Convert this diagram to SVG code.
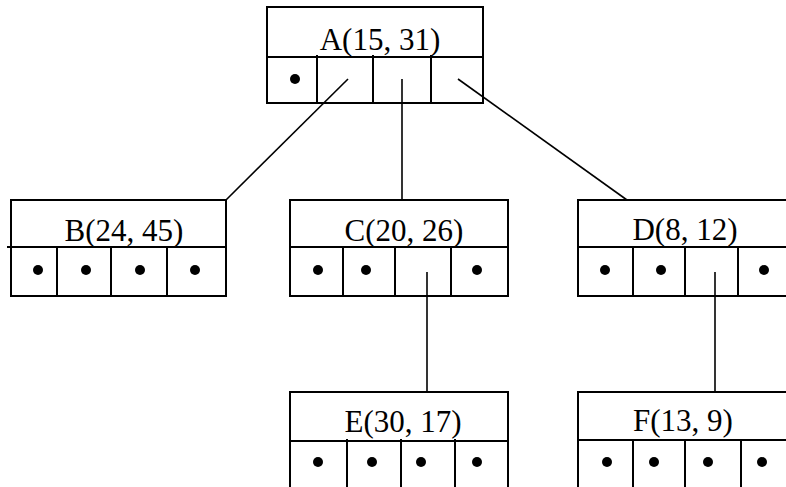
<svg xmlns="http://www.w3.org/2000/svg" width="786" height="487" viewBox="0 0 786 487">
<style>
.box{fill:#fff;stroke:#000;stroke-width:2}
.ln{stroke:#000;stroke-width:2;fill:none}
.c{stroke:#000;stroke-width:1.6;fill:none}
.t{font-family:"Liberation Serif","Times New Roman",serif;font-size:31px;text-anchor:middle;fill:#000}
.d{fill:#000}
</style>
<rect width="786" height="487" fill="#fff"/>
<g id="A">
<rect class="box" x="267" y="7" width="216" height="96"/>
<line class="ln" x1="267" y1="57" x2="483" y2="57"/>
<line class="ln" x1="317" y1="55" x2="317" y2="103"/>
<line class="ln" x1="373" y1="55" x2="373" y2="103"/>
<line class="ln" x1="431" y1="55" x2="431" y2="103"/>
<text class="t" x="380" y="50">A(15, 31)</text>
<circle class="d" cx="295" cy="79" r="5"/>
</g>
<g id="B">
<rect class="box" x="11" y="200" width="215" height="96"/>
<line class="ln" x1="7" y1="247" x2="226" y2="247"/>
<line class="ln" x1="57" y1="247" x2="57" y2="296"/>
<line class="ln" x1="111" y1="247" x2="111" y2="296"/>
<line class="ln" x1="167" y1="247" x2="167" y2="296"/>
<text class="t" x="124" y="241">B(24, 45)</text>
<circle class="d" cx="38" cy="270" r="5"/>
<circle class="d" cx="86" cy="270" r="5"/>
<circle class="d" cx="140" cy="270" r="5"/>
<circle class="d" cx="195" cy="270" r="5"/>
</g>
<g id="C">
<rect class="box" x="290" y="200" width="218" height="96"/>
<line class="ln" x1="290" y1="247" x2="508" y2="247"/>
<line class="ln" x1="343" y1="247" x2="343" y2="296"/>
<line class="ln" x1="395" y1="247" x2="395" y2="296"/>
<line class="ln" x1="451" y1="247" x2="451" y2="296"/>
<text class="t" x="404" y="241">C(20, 26)</text>
<circle class="d" cx="318" cy="270" r="5"/>
<circle class="d" cx="366" cy="270" r="5"/>
<circle class="d" cx="477" cy="270" r="5"/>
</g>
<g id="D">
<rect class="box" x="578" y="200" width="218" height="96"/>
<line class="ln" x1="578" y1="247" x2="796" y2="247"/>
<line class="ln" x1="633" y1="247" x2="633" y2="296"/>
<line class="ln" x1="685" y1="247" x2="685" y2="296"/>
<line class="ln" x1="738" y1="247" x2="738" y2="296"/>
<text class="t" x="685" y="240">D(8, 12)</text>
<circle class="d" cx="605" cy="270" r="5"/>
<circle class="d" cx="661" cy="270" r="5"/>
<circle class="d" cx="764" cy="270" r="5"/>
</g>
<g id="E">
<rect class="box" x="290" y="392" width="218" height="110"/>
<line class="ln" x1="290" y1="441" x2="508" y2="441"/>
<line class="ln" x1="347" y1="439" x2="347" y2="490"/>
<line class="ln" x1="401" y1="439" x2="401" y2="490"/>
<line class="ln" x1="455" y1="439" x2="455" y2="490"/>
<text class="t" x="403" y="432">E(30, 17)</text>
<circle class="d" cx="318" cy="462" r="5"/>
<circle class="d" cx="372" cy="462" r="5"/>
<circle class="d" cx="421" cy="462" r="5"/>
<circle class="d" cx="477" cy="462" r="5"/>
</g>
<g id="F">
<rect class="box" x="578" y="392" width="218" height="110"/>
<line class="ln" x1="578" y1="440" x2="796" y2="440"/>
<line class="ln" x1="633" y1="440" x2="633" y2="490"/>
<line class="ln" x1="685" y1="440" x2="685" y2="490"/>
<line class="ln" x1="741" y1="440" x2="741" y2="490"/>
<text class="t" x="683" y="431">F(13, 9)</text>
<circle class="d" cx="607" cy="462" r="5"/>
<circle class="d" cx="654" cy="462" r="5"/>
<circle class="d" cx="708" cy="462" r="5"/>
<circle class="d" cx="762" cy="462" r="5"/>
</g>
<g id="connectors">
<line class="c" x1="348" y1="79" x2="226" y2="200"/>
<line class="c" x1="402" y1="79" x2="402" y2="200"/>
<line class="c" x1="458" y1="79" x2="627" y2="200"/>
<line class="c" x1="427" y1="272" x2="427" y2="392"/>
<line class="c" x1="715" y1="272" x2="715" y2="392"/>
</g>
</svg>
